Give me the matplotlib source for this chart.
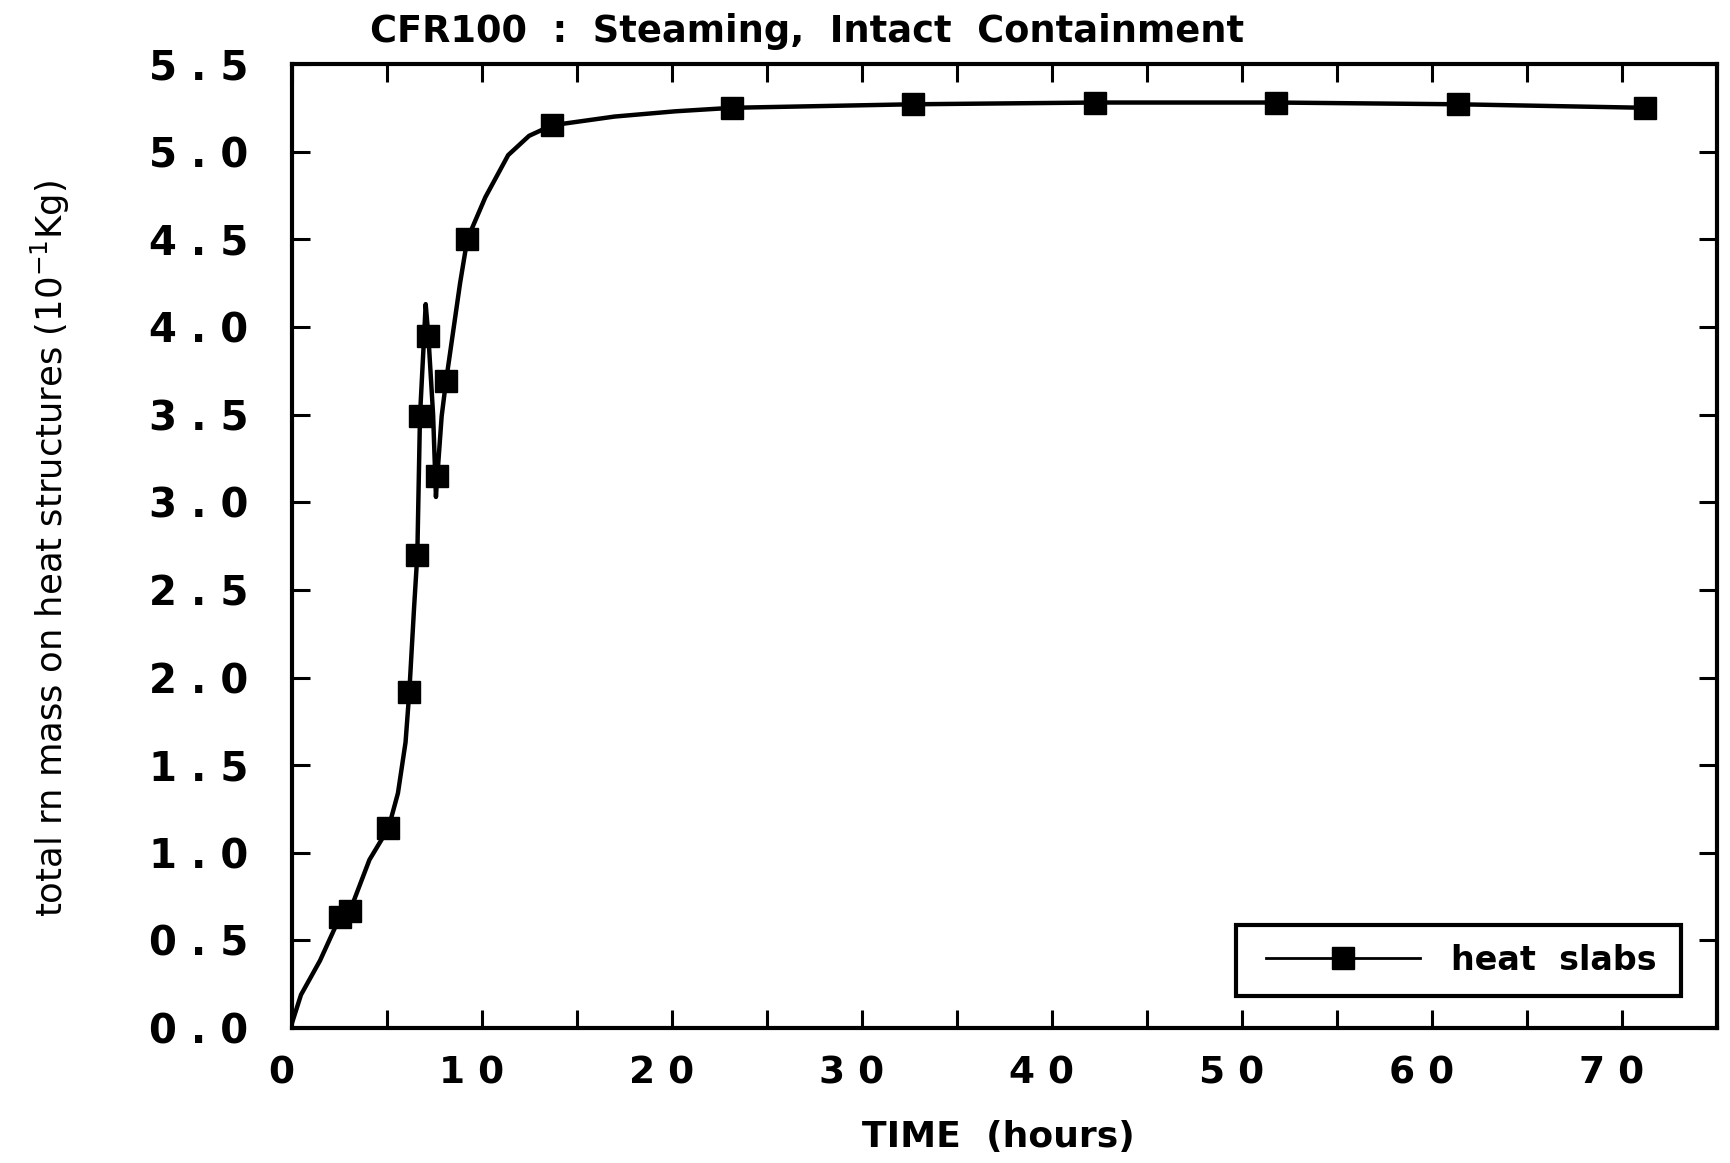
import matplotlib.pyplot as plt
from matplotlib.patches import Rectangle
from matplotlib.transforms import ScaledTranslation

plt.rcParams.update(
  {
    "font.family": "DejaVu Sans",
    "axes.linewidth": 3.0,
    "xtick.direction": "in",
    "ytick.direction": "in",
    "xtick.major.size": 13,
    "ytick.major.size": 13,
    "xtick.major.width": 2.2,
    "ytick.major.width": 2.2,
  }
)

# heat slab curve (hours, 10^-1 kg)
time_line = [0.0, 0.5, 1.5, 2.55, 3.08, 4.1, 5.1, 5.6, 6.0, 6.2, 6.45, 6.62,
             6.76, 6.94, 7.06, 7.2, 7.45, 7.6, 7.64, 7.9, 8.13, 8.87, 9.25,
             10.2, 11.4, 12.5, 13.7, 17.0, 20.2, 23.2, 32.7, 42.3, 51.8,
             61.4, 71.2]
mass_line = [0.02, 0.19, 0.385, 0.635, 0.67, 0.96, 1.14, 1.34, 1.63, 1.92,
             2.40, 2.70, 3.49, 3.87, 4.13, 3.95, 3.50, 3.03, 3.10, 3.49,
             3.69, 4.25, 4.50, 4.74, 4.98, 5.09, 5.15, 5.20, 5.23, 5.25,
             5.27, 5.28, 5.28, 5.27, 5.25]

# plotted symbols
time_mark = [2.55, 3.08, 5.1, 6.2, 6.62, 6.76, 7.2, 7.64, 8.13, 9.25, 13.7,
             23.2, 32.7, 42.3, 51.8, 61.4, 71.2]
mass_mark = [0.635, 0.67, 1.14, 1.92, 2.70, 3.49, 3.95, 3.15, 3.69, 4.50,
             5.15, 5.25, 5.27, 5.28, 5.28, 5.27, 5.25]

xticks = list(range(0, 80, 5))
xlabels = ["0", "1 0", "2 0", "3 0", "4 0", "5 0", "6 0", "7 0"]
yticks = [0.0, 0.5, 1.0, 1.5, 2.0, 2.5, 3.0, 3.5, 4.0, 4.5, 5.0, 5.5]
ylabels = ["0 . 0", "0 . 5", "1 . 0", "1 . 5", "2 . 0", "2 . 5", "3 . 0",
           "3 . 5", "4 . 0", "4 . 5", "5 . 0", "5 . 5"]

fig = plt.figure(figsize=(17.31, 11.63), dpi=100)
ax = fig.add_axes([0.1684, 0.116, 0.8235, 0.829])

ax.plot(time_line, mass_line, "k-", lw=3.2)
ax.plot(time_mark, mass_mark, "ks", ms=16, lw=0)
# legend proxy
ax.plot([], [], "k-", lw=2, marker="s", ms=16, label="heat  slabs")

ax.set_xlim(0, 75)
ax.set_ylim(0, 5.5)
ax.set_xticks(xticks)
ax.set_xticklabels([xlabels[i // 2] if i % 2 == 0 else "" for i in range(len(xticks))])
ax.set_yticks(yticks)
ax.set_yticklabels(ylabels)
ax.tick_params(top=True, right=True)
ax.tick_params(axis="x", pad=20, labelsize=27)
ax.tick_params(axis="y", pad=31, labelsize=29)
for lab in ax.get_xticklabels() + ax.get_yticklabels():
    lab.set_fontweight("bold")
for lab in ax.get_xticklabels():
    lab.set_transform(lab.get_transform() + ScaledTranslation(-10 / 100, 0, fig.dpi_scale_trans))

# legend box
ax.add_patch(Rectangle((0.6626, 0.0332), 0.3121, 0.0736, transform=ax.transAxes,
                       fill=False, edgecolor="black", lw=3, zorder=5))
ax.legend(loc="center", bbox_to_anchor=(0.8208, 0.07), frameon=False,
          handlelength=4.6, handletextpad=0.95,
          prop={"weight": "bold", "size": 24})

fig.text(0.466, 0.973, "CFR100  :  Steaming,  Intact  Containment",
         ha="center", va="center", fontsize=26.5, fontweight="bold")
fig.text(0.577, 0.022, "TIME  (hours)", ha="center", va="center", fontsize=26,
         fontweight="bold")
fig.text(0.029, 0.528, "total rn mass on heat structures (10$^{-1}$Kg)",
         rotation=90, ha="center", va="center", fontsize=25.5)

plt.savefig("out.png", dpi=100, facecolor="white")
